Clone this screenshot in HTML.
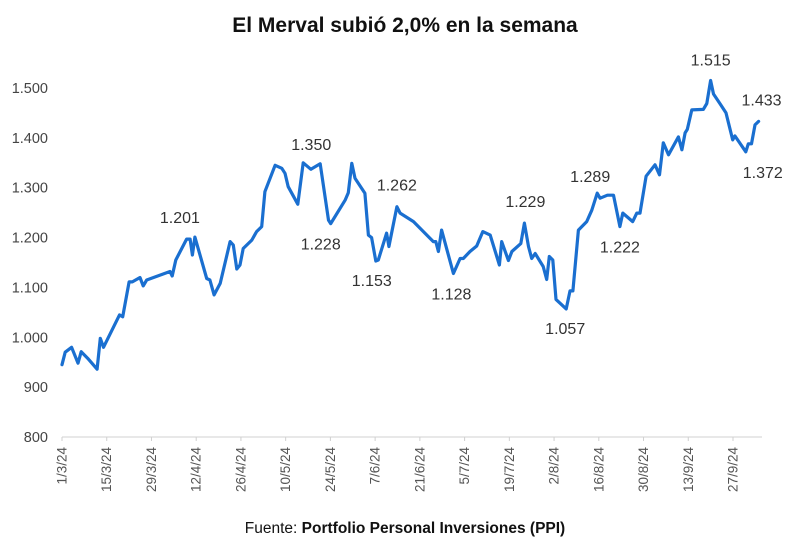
<!DOCTYPE html>
<html>
<head>
<meta charset="utf-8">
<style>
  html, body { margin:0; padding:0; background:#fff; }
  body { width:800px; height:548px; overflow:hidden; font-family:"Liberation Sans", sans-serif; }
  svg text { font-family:"Liberation Sans", sans-serif; }
</style>
</head>
<body>
<svg id="chart" width="800" height="548" viewBox="0 0 800 548" xmlns="http://www.w3.org/2000/svg">
  <text x="405" y="32" text-anchor="middle" font-size="21" font-weight="bold" fill="#111">El Merval subió 2,0% en la semana</text>
  <g id="y-axis"></g>
  <g id="x-axis"></g>
  <g id="series"></g>
  <g id="annotations"></g>
  <text x="405" y="533" text-anchor="middle" font-size="15.5" fill="#111">Fuente: <tspan font-weight="bold">Portfolio Personal Inversiones (PPI)</tspan></text>
</svg>
<script>
// Days since 1/3/2024
const days = [0,1,3,5,6,8,11,12,13,18,19,21,22,24.4,25.4,26.5,33.8,34.5,35.6,39,40.1,40.8,41.6,45.3,46.3,47.6,49.5,52.6,53.6,54.7,55.7,56.7,59.4,60.9,62.5,63.5,66.7,68.8,69.8,70.8,73.8,75.5,77.9,80.8,83.4,84.1,88.6,89.6,90.7,91.7,94.8,95.9,96.9,98.2,99,101.6,102.3,104.8,105.8,110,116.2,117,117.8,118.8,122.5,124.6,125.6,127.7,129.8,131.7,134,136.9,137.6,139.7,140.8,143.6,144.7,146,147,148.1,150.6,151.7,152.5,153.6,154.6,157.8,159,159.9,161.6,164.2,165.8,167.5,168.4,170.7,172.6,174.6,175.5,178.6,179.9,180.9,182.8,185.6,187,188.2,189.8,192.9,194,195,195.7,197.1,200.7,201.8,203,203.9,206,207.8,209.9,210.6,214,214.8,215.8,216.9,218];
const values = [945,970,980,948,971,958,936,998,980,1045,1041,1111,1111,1120,1103,1115,1132,1123,1155,1197,1197,1165,1201,1118,1115,1085,1108,1192,1185,1137,1145,1178,1195,1212,1222,1292,1345,1339,1329,1302,1267,1350,1337,1348,1235,1228,1275,1290,1349,1319,1289,1205,1200,1153,1155,1209,1182,1262,1249,1232,1192,1192,1172,1215,1128,1158,1158,1172,1183,1212,1205,1145,1192,1154,1172,1188,1229,1182,1158,1168,1142,1116,1162,1155,1076,1057,1093,1093,1215,1232,1255,1289,1279,1285,1285,1222,1249,1232,1249,1249,1323,1346,1326,1390,1366,1402,1376,1410,1417,1456,1457,1469,1515,1488,1468,1450,1396,1404,1372,1388,1388,1426,1433];
const yTicks = [800,900,1000,1100,1200,1300,1400,1500];
const yTickLabels = ["800","900","1.000","1.100","1.200","1.300","1.400","1.500"];
const xTickDays = [0,14,28,42,56,70,84,98,112,126,140,154,168,182,196,210];
const xTickLabels = ["1/3/24","15/3/24","29/3/24","12/4/24","26/4/24","10/5/24","24/5/24","7/6/24","21/6/24","5/7/24","19/7/24","2/8/24","16/8/24","30/8/24","13/9/24","27/9/24"];
const annValues = ["1.201","1.350","1.228","1.262","1.153","1.128","1.229","1.057","1.289","1.222","1.515","1.433","1.372"];
const annIdx = [22,41,45,57,53,64,76,85,91,95,112,122,118];
const annDx = [-15,8,-10,0,-4,-2,1,-1,-7,0,0,3,17];
const annDy = [-15,-14,25,-17,24,25,-17,24,-12,25,-16,-17,25];

const NS = "http://www.w3.org/2000/svg";
const x = d => 62 + d * (671 / 210);
const y = v => 437 - (v - 800) * (349 / 700);
function mk(tag, attrs, parent, txt) {
  const e = document.createElementNS(NS, tag);
  for (const k in attrs) e.setAttribute(k, attrs[k]);
  if (txt !== undefined) e.textContent = txt;
  parent.appendChild(e);
  return e;
}
const yAxis = document.getElementById('y-axis');
yTicks.forEach((t, i) => {
  const el = mk('text', {x: 48, y: y(t) + 5, 'text-anchor': 'end', 'font-size': 14.5, fill: '#444'}, yAxis, yTickLabels[i]);
  
  
});
const xAxis = document.getElementById('x-axis');
const axisLine = mk('line', {x1: 62, x2: 762, y1: 437, y2: 437, stroke: '#d0d0d0', 'stroke-width': 1}, xAxis);


xTickDays.forEach((d, i) => {
  const tk = mk('line', {x1: x(d), x2: x(d), y1: 437, y2: 441, stroke: '#d0d0d0', 'stroke-width': 1}, xAxis);
  
  
  const tx = x(d) + 4.5, ty = 447;
  const lb = mk('text', {x: tx, y: ty, 'text-anchor': 'end', 'font-size': 13.5, fill: '#555', transform: `rotate(-90 ${tx} ${ty})`}, xAxis, xTickLabels[i]);
  
  
});
const series = document.getElementById('series');
const pts = days.map((d, i) => x(d).toFixed(1) + ',' + y(values[i]).toFixed(1)).join(' ');
const line = mk('polyline', {points: pts, fill: 'none', stroke: '#1a6fd0', 'stroke-width': 3.2, 'stroke-linejoin': 'round', 'stroke-linecap': 'round'}, series);


const ann = document.getElementById('annotations');
annValues.forEach((s, i) => {
  const k = annIdx[i];
  const a = mk('text', {x: x(days[k]) + annDx[i], y: y(values[k]) + annDy[i] + 1, 'text-anchor': 'middle', 'font-size': 16, fill: '#333'}, ann, s);
  
  
});
</script>
</body>
</html>
